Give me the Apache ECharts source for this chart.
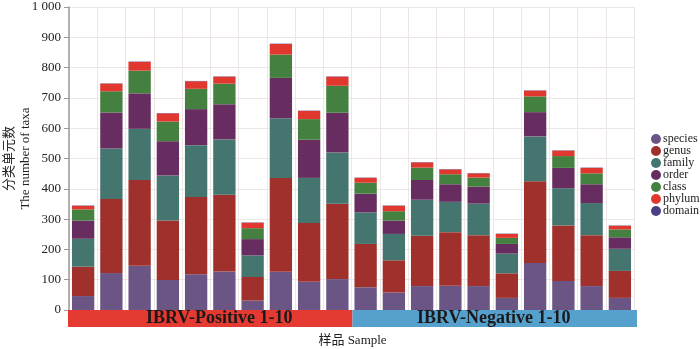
<!DOCTYPE html>
<html>
<head>
<meta charset="utf-8">
<script src="https://cdn.jsdelivr.net/npm/echarts@6/dist/echarts.min.js"></script>
<style>
  html, body { margin: 0; padding: 0; background: #fff; }
  #main { width: 700px; height: 349px; }
</style>
</head>
<body>
<div id="main"></div>
<script>
// 样品
var samples = ['P1', 'P2', 'P3', 'P4', 'P5', 'P6', 'P7', 'P8', 'P9', 'P10',
               'N1', 'N2', 'N3', 'N4', 'N5', 'N6', 'N7', 'N8', 'N9', 'N10'];
var groups = ['IBRV-Positive 1-10', 'IBRV-Negative 1-10'];

// 各分类水平的单元数（堆叠）
var species = [46, 122, 146, 99, 118, 127, 31, 126, 93, 102, 75, 58, 79, 80, 79, 40, 155, 96, 79, 40];
var genus   = [97, 244, 283, 196, 255, 253, 78, 310, 194, 249, 143, 106, 166, 177, 168, 81, 270, 183, 168, 89];
var family  = [92, 167, 169, 149, 171, 183, 71, 197, 149, 169, 104, 87, 119, 100, 104, 65, 148, 123, 106, 73];
var order   = [60, 119, 117, 113, 119, 116, 54, 133, 126, 131, 62, 44, 65, 58, 56, 32, 80, 67, 62, 38];
var klass   = [37, 70, 75, 65, 67, 68, 36, 77, 68, 89, 36, 31, 41, 33, 30, 20, 52, 39, 36, 26];
var phylum  = [12, 25, 29, 27, 25, 23, 18, 35, 27, 30, 16, 18, 17, 16, 14, 13, 19, 18, 18, 12];
var domain  = [1, 1, 1, 1, 1, 1, 1, 1, 1, 1, 1, 1, 1, 1, 1, 1, 1, 1, 1, 1];

var levels = [
    {name: 'species', data: species, color: '#6b5585'},
    {name: 'genus',   data: genus,   color: '#a0302b'},
    {name: 'family',  data: family,  color: '#45756f'},
    {name: 'order',   data: order,   color: '#672d61'},
    {name: 'class',   data: klass,   color: '#44803f'},
    {name: 'phylum',  data: phylum,  color: '#e0382e'},
    {name: 'domain',  data: domain,  color: '#4a3f85'}
];
var groupColors = ['#e43a31', '#56a0cd'];
var groupLabelShift = [9, -1];

var serif = '"Liberation Serif", "Times New Roman", "Noto Sans CJK SC", serif';

var chart = echarts.init(document.getElementById('main'));

var series = levels.map(function (l) {
    return {
        name: l.name,
        type: 'bar',
        stack: 'taxa',
        xAxisIndex: 0,
        yAxisIndex: 0,
        barCategoryGap: '21%',
        data: l.data,
        itemStyle: {color: l.color},
        emphasis: {disabled: true}
    };
});

// 底部分组色带
series.push({
    name: 'group',
    type: 'bar',
    xAxisIndex: 1,
    yAxisIndex: 1,
    barWidth: '100%',
    data: groups.map(function (g, i) {
        return {
            value: 1,
            itemStyle: {color: groupColors[i]},
            label: {offset: [groupLabelShift[i], 0]}
        };
    }),
    label: {
        show: true,
        position: 'inside',
        formatter: '{b}',
        fontFamily: serif,
        fontWeight: 'bold',
        fontSize: 18,
        color: '#1a1a1a'
    },
    silent: true
});

var option = {
    animation: false,
    backgroundColor: '#fff',
    color: levels.map(function (l) { return l.color; }),
    grid: [
        {left: 69, right: 66, top: 7, bottom: 39, outerBoundsMode: 'none', containLabel: false},
        {left: 68, right: 63, top: 310, height: 17, outerBoundsMode: 'none', containLabel: false}
    ],
    legend: {
        orient: 'vertical',
        left: 646,
        top: 128,
        icon: 'circle',
        itemWidth: 10,
        itemHeight: 10,
        itemGap: 0,
        data: levels.map(function (l) { return l.name; }),
        textStyle: {
            fontFamily: serif,
            fontSize: 12,
            lineHeight: 12,
            color: '#222',
            padding: [0, 0, 0, -3]
        }
    },
    xAxis: [
        {
            type: 'category',
            gridIndex: 0,
            data: samples,
            axisLine: {show: false},
            axisTick: {show: false, interval: 0},
            axisLabel: {show: false, interval: 0},
            splitLine: {show: true, interval: 0, lineStyle: {color: '#ede6e6', width: 1}}
        },
        {
            type: 'category',
            gridIndex: 1,
            data: groups,
            axisLine: {show: false},
            axisTick: {show: false},
            axisLabel: {show: false},
            name: '样品 Sample',
            nameLocation: 'middle',
            nameGap: 7,
            nameMoveOverlap: false,
            nameTextStyle: {fontFamily: serif, fontSize: 13, color: '#222', verticalAlign: 'top'}
        }
    ],
    yAxis: [
        {
            type: 'value',
            gridIndex: 0,
            min: 0,
            max: 1000,
            interval: 100,
            name: '分类单元数\nThe number of taxa',
            nameLocation: 'middle',
            nameRotate: 90,
            nameGap: 35,
            nameMoveOverlap: false,
            nameTextStyle: {fontFamily: serif, fontSize: 13, color: '#222', lineHeight: 16},
            axisLine: {show: true, lineStyle: {color: '#9d9797', width: 1.5}},
            axisTick: {show: true, length: 5, lineStyle: {color: '#9d9797'}},
            axisLabel: {
                fontFamily: serif,
                fontSize: 13,
                color: '#222',
                margin: 8,
                formatter: function (v) {
                    return String(v).replace(/\B(?=(\d{3})+(?!\d))/g, ' ');
                }
            },
            splitLine: {show: true, lineStyle: {color: '#ede6e6', width: 1}}
        },
        {
            type: 'value',
            gridIndex: 1,
            min: 0,
            max: 1,
            show: false
        }
    ],
    series: series
};

chart.setOption(option);
</script>
</body>
</html>
